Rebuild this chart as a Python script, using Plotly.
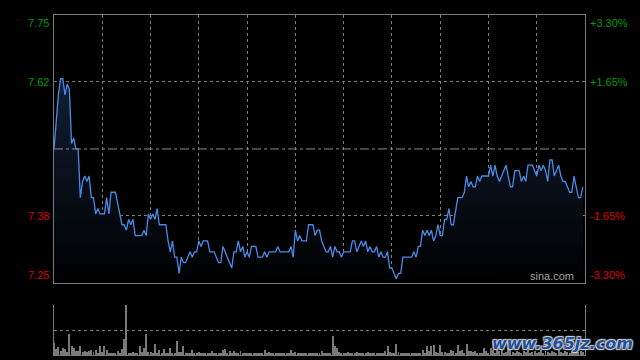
import plotly.graph_objects as go

# ---- data ----
pre_close = 7.50
# price in cents above 7.00, one value per minute index (242 points)
price_cents = [
    50, 56, 60, 63, 63, 60, 62, 61, 51, 52, 50, 50, 41, 44, 45, 44, 45, 41, 41, 38,
    39, 38, 38, 38, 41, 38, 42, 42, 42, 40, 38, 36, 36, 35, 37, 36, 37, 34, 34, 34,
    34, 35, 34, 38, 37, 38, 37, 39, 36, 36, 36, 36, 33, 31, 33, 30, 30, 27, 30, 29,
    29, 30, 31, 30, 31, 31, 33, 32, 33, 33, 33, 31, 31, 31, 30, 29, 29, 32, 31, 30,
    29, 28, 31, 31, 33, 31, 32, 30, 31, 30, 32, 32, 32, 30, 30, 30, 31, 30, 31, 31,
    31, 31, 32, 31, 31, 31, 31, 31, 32, 30, 35, 33, 34, 33, 33, 33, 36, 36, 36, 34,
    35, 35, 33, 32, 31, 31, 32, 30, 32, 31, 31, 30, 31, 31, 31, 31, 33, 33, 31, 32,
    33, 32, 33, 31, 32, 31, 31, 32, 30, 31, 30, 30, 31, 28, 28, 27, 26, 27, 27, 30,
    30, 30, 30, 30, 31, 30, 32, 32, 35, 34, 35, 34, 35, 33, 34, 36, 34, 34, 37, 37,
    39, 36, 36, 39, 41, 41, 41, 42, 45, 43, 44, 43, 43, 45, 44, 45, 45, 45, 45, 47,
    45, 47, 45, 44, 45, 46, 47, 45, 43, 43, 46, 46, 46, 44, 45, 44, 47, 47, 47, 46,
    45, 47, 46, 47, 46, 44, 48, 48, 45, 46, 47, 45, 44, 44, 43, 42, 42, 45, 43, 41,
    41, 43,
]
volume = [
    12, 6, 8, 4, 7, 6, 3, 21, 9, 7, 4, 4, 9, 3, 4, 3, 4, 5, 3, 5,
    2, 9, 3, 9, 5, 2, 1, 2, 1, 4, 2, 6, 16, 50, 1, 1, 3, 1, 2, 9,
    3, 7, 21, 3, 3, 1, 11, 2, 5, 2, 6, 1, 2, 7, 1, 2, 14, 3, 3, 9,
    1, 2, 2, 5, 1, 2, 3, 1, 2, 1, 2, 1, 4, 2, 1, 2, 1, 5, 6, 2,
    4, 1, 4, 2, 1, 4, 1, 2, 1, 2, 1, 1, 2, 1, 1, 2, 5, 1, 3, 1,
    2, 1, 1, 2, 1, 1, 2, 1, 5, 1, 3, 1, 2, 1, 1, 2, 1, 1, 2, 1,
    1, 2, 4, 1, 2, 1, 2, 19, 9, 7, 3, 1, 1, 2, 3, 1, 1, 2, 3, 1,
    2, 1, 1, 3, 1, 2, 1, 1, 2, 1, 2, 4, 9, 3, 2, 1, 11, 3, 2, 1,
    2, 1, 2, 1, 1, 2, 1, 2, 5, 2, 9, 4, 9, 10, 3, 2, 10, 3, 3, 2,
    1, 5, 4, 2, 10, 4, 5, 2, 11, 4, 4, 3, 4, 2, 1, 2, 7, 4, 2, 7,
    5, 2, 5, 4, 5, 2, 3, 7, 6, 3, 2, 4, 3, 2, 4, 3, 5, 2, 3, 4,
    2, 3, 5, 2, 4, 3, 2, 4, 3, 2, 5, 3, 2, 4, 3, 2, 4, 3, 5, 3,
    4, 3,
]
pct_labels = ["+3.30%", "+1.65%", "-1.65%", "-3.30%"]
pct_values = [3.30, 1.65, -1.65, -3.30]
price_labels = ["7.75", "7.62", "7.38", "7.25"]
minutes = list(range(len(price_cents)))
prices = [7.0 + c / 100.0 for c in price_cents]

GREEN = "#009c00"
RED = "#dd0000"
GRID = "#7e7e7e"
BORDER = "#7a7a7a"

level_prices = [pre_close * (1 + p / 100.0) for p in pct_values]
top_p, bot_p = level_prices[0], level_prices[-1]

fig = go.Figure()

fig.add_trace(go.Scatter(
    x=minutes, y=prices, mode="lines",
    line=dict(color="#4a8ae6", width=1.3),
    fill="tozeroy",
    fillgradient=dict(type="vertical", start=bot_p, stop=7.63,
                      colorscale=[[0, "rgb(0,0,0)"], [1, "rgb(17,30,52)"]]),
    xaxis="x", yaxis="y", hoverinfo="skip",
))

fig.add_trace(go.Bar(
    x=minutes, y=volume, width=0.45,
    marker=dict(color="#7a7a7a", line=dict(width=0)),
    xaxis="x2", yaxis="y2", hoverinfo="skip",
))

grid_minutes = [22 * k for k in range(1, 11)]

fig.update_layout(
    width=640, height=360,
    paper_bgcolor="#000000", plot_bgcolor="#000000",
    margin=dict(l=54, r=55, t=15, b=5),
    showlegend=False,
    bargap=0,
    xaxis=dict(domain=[0, 1], range=[0, 242], anchor="y",
               tickvals=grid_minutes, showticklabels=False, ticks="",
               showgrid=True, gridcolor=GRID, griddash="dot", gridwidth=1,
               zeroline=False, showline=True, mirror=True, linecolor=BORDER, linewidth=1),
    yaxis=dict(domain=[0.212, 1], range=[bot_p, top_p], anchor="x",
               tickvals=[level_prices[1], level_prices[2]], showticklabels=False, ticks="",
               showgrid=True, gridcolor=GRID, griddash="dot", gridwidth=1,
               zeroline=False, showline=True, mirror=True, linecolor=BORDER, linewidth=1),
    xaxis2=dict(domain=[0, 1], range=[0, 242], anchor="y2",
                showticklabels=False, ticks="", showgrid=False, zeroline=False,
                showline=True, linecolor=BORDER, linewidth=1),
    yaxis2=dict(domain=[0.0, 0.147], range=[0, 50], anchor="x2",
                tickvals=[25, 49.9], showticklabels=False, ticks="",
                showgrid=True, gridcolor=GRID, griddash="dot", gridwidth=1,
                zeroline=False, showline=True, mirror=True, linecolor=BORDER, linewidth=1),
)

# previous close line
fig.add_shape(type="line", xref="x", yref="y", x0=0, x1=242, y0=pre_close, y1=pre_close,
              line=dict(color="#8a8a8a", width=1, dash="dashdot"))

font = "Liberation Sans, Arial, sans-serif"
anchors = ["top", "middle", "middle", "bottom"]
for lbl, pv, pct, anc in zip(price_labels, level_prices, pct_labels, anchors):
    col = GREEN if pv > pre_close else RED
    fig.add_annotation(xref="paper", yref="y", x=0, y=pv, text=lbl, showarrow=False,
                       xanchor="right", yanchor=anc, xshift=-3,
                       font=dict(family=font, size=11, color=col))
    fig.add_annotation(xref="paper", yref="y", x=1, y=pv, text=pct, showarrow=False,
                       xanchor="left", yanchor=anc, xshift=3,
                       font=dict(family=font, size=11, color=col))

fig.add_annotation(xref="paper", yref="y", x=0.983, y=bot_p, text="sina.com", showarrow=False,
                   xanchor="right", yanchor="bottom", yshift=-1,
                   font=dict(family=font, size=11, color="#a0a0a0"))

fig.add_annotation(xref="paper", yref="paper", x=1.095, y=0.035, text="<b><i>www.365jz.com</i></b>",
                   showarrow=False, xanchor="right", yanchor="middle",
                   font=dict(family="DejaVu Sans, sans-serif", size=16, color="#1d4f9e",
                             shadow="1px 1px 1px #d0d0d0, -1px -1px 1px #d0d0d0, 1px -1px 1px #d0d0d0, -1px 1px 1px #d0d0d0"))

fig.write_html("out.html", config={"displayModeBar": False},
               post_script="document.body.style.margin='0';document.body.style.overflow='hidden';")
